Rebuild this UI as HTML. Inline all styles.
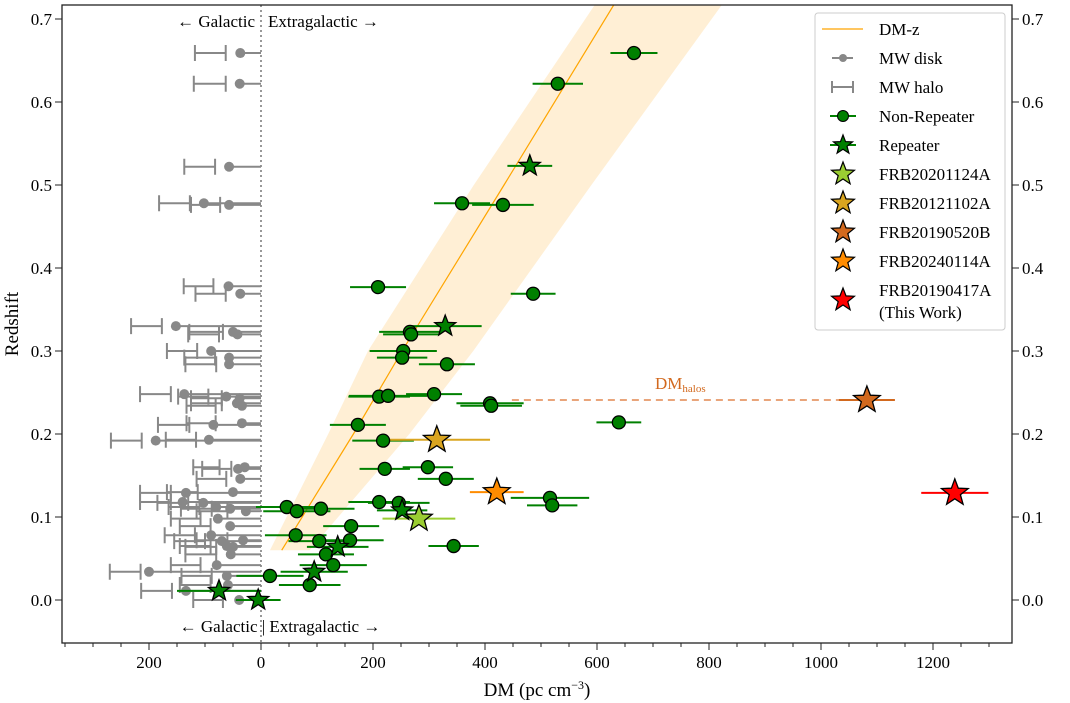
<!DOCTYPE html>
<html><head><meta charset="utf-8">
<style>
html,body{margin:0;padding:0;background:#fff;}
svg{display:block;font-family:"Liberation Serif","DejaVu Serif",serif;}
</style></head>
<body>
<svg id="chart" width="1070" height="703" viewBox="0 0 1070 703" xmlns="http://www.w3.org/2000/svg">
<rect x="0" y="0" width="1070" height="703" fill="#fff"/>
<g id="plot"></g>
</svg>
<script>
// ---- data ----
const nrDM  = [666,530,359,432,209,486,266,268,254,252,332,211,227,309,409,411,173,218,221,298,330,211,246,46,64,107,161,62,104,159,116,129,16,87,344,516,520,639];
const nrZ   = [0.659,0.622,0.478,0.476,0.377,0.369,0.323,0.320,0.300,0.292,0.284,0.245,0.246,0.248,0.237,0.234,0.211,0.192,0.158,0.160,0.146,0.118,0.117,0.112,0.107,0.110,0.089,0.078,0.071,0.072,0.055,0.042,0.029,0.018,0.065,0.123,0.114,0.214];
const nrErr = [42,45,50,55,50,40,55,50,60,45,50,55,70,50,60,55,50,55,45,45,50,55,55,55,60,60,50,55,55,60,50,60,60,55,45,70,45,40];
const repDM  = [480,329,252,137,95,-75,-5];
const repZ   = [0.523,0.330,0.108,0.064,0.034,0.011,0.000];
const repErr = [40,65,45,55,60,75,40];
const specNames = ["FRB20201124A","FRB20121102A","FRB20190520B","FRB20240114A","FRB20190417A"];
const specDM  = [282,314,1082,421,1239];
const specZ   = [0.098,0.193,0.241,0.130,0.129];
const specErr = [65,95,50,48,60];
const specColors = ["#9acd32","#daa520","#d2691e","#ff8c00","#ff0000"];
const mwZ    = [0.659,0.622,0.522,0.478,0.476,0.378,0.369,0.330,0.323,0.320,0.300,0.292,0.284,0.248,0.245,0.243,0.237,0.234,0.211,0.213,0.192,0.193,0.160,0.158,0.146,0.130,0.129,0.118,0.117,0.112,0.107,0.110,0.098,0.089,0.078,0.071,0.072,0.065,0.064,0.055,0.042,0.034,0.029,0.018,0.011,0.000];
const mwDisk = [37,38,57,102,57,58,37,152,50,42,89,57,57,137,62,38,43,34,85,34,188,93,29,41,37,50,134,140,103,80,27,55,77,55,89,70,32,61,50,54,79,200,61,59,134,39];
const mwHaloLo=[63,63,82,127,73,85,63,177,68,75,114,82,80,161,94,70,70,81,128,81,213,116,74,53,62,113,161,161,130,110,60,88,108,90,118,100,60,90,80,80,108,215,88,90,159,68];
const mwHaloHi=[118,120,137,182,125,138,117,232,128,130,168,137,135,216,148,125,125,133,184,133,268,170,121,105,115,168,216,216,185,165,115,143,161,145,172,155,115,145,135,135,161,270,142,145,214,121];
const bandZ  = [0.06,0.2,0.3,0.5,0.717];
const bandLo = [16,120,191,380,596];
const bandHi = [87,265,379,590,823];
const lineZ  = [0.06,0.2,0.3,0.5,0.717];
const lineDM = [37,165,252,434,630];
const xTickVals = [-200,0,200,400,600,800,1000,1200];
const xTickLabels = ["200","0","200","400","600","800","1000","1200"];
const yTickVals = [0,0.1,0.2,0.3,0.4,0.5,0.6,0.7];
const yTickLabels = ["0.0","0.1","0.2","0.3","0.4","0.5","0.6","0.7"];

// ---- axes ----
const L=62,R=1012,T=5,B=643;
const X0=261, KX=0.56, Y0=600, KY=830;
const sx=v=>X0+v*KX, sy=v=>Y0-v*KY;
const NS="http://www.w3.org/2000/svg";
const plot=document.getElementById('plot');
function mk(tag,attrs,parent){const e=document.createElementNS(NS,tag);for(const k in attrs)e.setAttribute(k,attrs[k]);(parent||plot).appendChild(e);return e;}
function star(cx,cy,r){let p=[];for(let i=0;i<10;i++){const a=-Math.PI/2+i*Math.PI/5;const rr=i%2?r*0.42:r;p.push((cx+rr*Math.cos(a)).toFixed(1)+","+(cy+rr*Math.sin(a)).toFixed(1));}return p.join(" ");}

// band
let bp=[];
for(let i=0;i<bandZ.length;i++)bp.push(sx(bandLo[i])+","+sy(bandZ[i]));
for(let i=bandZ.length-1;i>=0;i--)bp.push(sx(bandHi[i])+","+sy(bandZ[i]));
const clip=mk('clipPath',{id:'pc'});mk('rect',{x:L,y:T,width:R-L,height:B-T},clip);
const band=mk('polygon',{points:bp.join(" "),fill:"#ffefd5",'clip-path':'url(#pc)'});


const dl=mk('polyline',{points:lineZ.map((z,i)=>sx(lineDM[i])+","+sy(z)).join(" "),fill:"none",stroke:"#ffa500","stroke-width":1.2,'clip-path':'url(#pc)'});



// divider
const dv=mk('line',{x1:sx(0),x2:sx(0),y1:T,y2:B,stroke:"#777","stroke-width":1.5,"stroke-dasharray":"2,3"});



// MW
for(let i=0;i<mwZ.length;i++){
  const y=sy(mwZ[i]);const g=mk('g',{});
  
  
  mk('line',{x1:sx(0),x2:sx(-mwDisk[i]),y1:y,y2:y,stroke:"#888","stroke-width":2},g);
  mk('circle',{cx:sx(-mwDisk[i]),cy:y,r:5,fill:"#888"},g);
  const a=sx(-mwHaloLo[i]),b=sx(-mwHaloHi[i]);
  mk('path',{d:`M${a},${y}H${b}M${a},${y-8}V${y+8}M${b},${y-8}V${y+8}`,stroke:"#888","stroke-width":2,fill:"none"},g);
}
// halos dashed
const hd=mk('line',{x1:sx(448),x2:sx(specDM[2]),y1:sy(specZ[2]),y2:sy(specZ[2]),stroke:"#e9a57b","stroke-width":2,"stroke-dasharray":"7,5"});


const ht=mk('text',{x:655,y:389,fill:"#d2691e","font-size":17});
ht.innerHTML='DM<tspan font-size="11" dy="3">halos</tspan>';



// error bars first
function eb(dm,z,e,c){const y=sy(z);mk('line',{x1:sx(dm-e),x2:sx(dm+e),y1:y,y2:y,stroke:c,"stroke-width":2});}
nrDM.forEach((d,i)=>eb(d,nrZ[i],nrErr[i],"#008000"));
repDM.forEach((d,i)=>eb(d,repZ[i],repErr[i],"#008000"));
specDM.forEach((d,i)=>eb(d,specZ[i],specErr[i],specColors[i]));
nrDM.forEach((d,i)=>{const c=mk('circle',{cx:sx(d),cy:sy(nrZ[i]),r:6.5,fill:"#008000",stroke:"#000","stroke-width":1.3});

});
repDM.forEach((d,i)=>{const s=mk('polygon',{points:star(sx(d),sy(repZ[i]),11),fill:"#008000",stroke:"#000","stroke-width":1.3});

});
specDM.forEach((d,i)=>{const s=mk('polygon',{points:star(sx(d),sy(specZ[i]),14),fill:specColors[i],stroke:"#000","stroke-width":1.3});

});

// frame
const fr=mk('rect',{x:L,y:T,width:R-L,height:B-T,fill:"none",stroke:"#222","stroke-width":1.3});


// x ticks
for(let v=-350;v<=1300;v+=50){const x=sx(v);if(x<L||x>R)continue;const maj=(v%200===0);mk('line',{x1:x,x2:x,y1:B,y2:B+(maj?7:4),stroke:"#222","stroke-width":1});}
xTickVals.forEach((v,i)=>{const t=mk('text',{x:sx(v),y:B+25,"text-anchor":"middle","font-size":17});t.textContent=xTickLabels[i];

});
yTickVals.forEach((v,i)=>{const y=sy(v);
mk('line',{x1:L-7,x2:L,y1:y,y2:y,stroke:"#222"});mk('line',{x1:R,x2:R+7,y1:y,y2:y,stroke:"#222"});
const t=mk('text',{x:L-10,y:y+6,"text-anchor":"end","font-size":17});t.textContent=yTickLabels[i];


const t2=mk('text',{x:R+10,y:y+6,"text-anchor":"start","font-size":17});t2.textContent=yTickLabels[i];

});
const xl=mk('text',{x:537,y:696,"text-anchor":"middle","font-size":19});
xl.innerHTML='DM (pc cm<tspan font-size="12" dy="-7">−3</tspan><tspan dy="7">)</tspan>';


const yl=mk('text',{x:18,y:324,"text-anchor":"middle","font-size":19,transform:"rotate(-90 18 324)"});yl.textContent="Redshift";


const g1=mk('text',{x:255,y:27,"text-anchor":"end","font-size":17});g1.textContent="← Galactic";


const g2=mk('text',{x:268,y:27,"font-size":17});g2.textContent="Extragalactic →";


const g3=mk('text',{x:280,y:632,"text-anchor":"middle","font-size":17});g3.textContent="← Galactic | Extragalactic →";



// legend
const lg=mk('g',{});


mk('rect',{x:815,y:13,width:190,height:317,rx:3,fill:"#fff",stroke:"#ccc"},lg);
const entries=["DM-z","MW disk","MW halo","Non-Repeater","Repeater"].concat(specNames);
const ys=[29,58,87,116,145,174,203,232,261,290];
entries.forEach((n,i)=>{const y=ys[i];const cx=843;
 if(i===0)mk('line',{x1:822,x2:863,y1:y,y2:y,stroke:"#ffa500","stroke-width":1.3},lg);
 else if(i===1){mk('line',{x1:832,x2:853,y1:y,y2:y,stroke:"#888","stroke-width":2},lg);mk('circle',{cx:cx,cy:y,r:4,fill:"#888"},lg);}
 else if(i===2)mk('path',{d:`M832,${y}H853M832,${y-6}V${y+6}M853,${y-6}V${y+6}`,stroke:"#888","stroke-width":2,fill:"none"},lg);
 else if(i===3){mk('line',{x1:830,x2:856,y1:y,y2:y,stroke:"#008000","stroke-width":2},lg);mk('circle',{cx:cx,cy:y,r:5.5,fill:"#008000",stroke:"#000"},lg);}
 else if(i===4){mk('line',{x1:830,x2:856,y1:y,y2:y,stroke:"#008000","stroke-width":2},lg);mk('polygon',{points:star(cx,y,10),fill:"#008000",stroke:"#000","stroke-width":1.2},lg);}
 else {const yy=(i===9)?y+10:y;mk('polygon',{points:star(cx,yy,12),fill:specColors[i-5],stroke:"#000","stroke-width":1.2},lg);}
 const t=mk('text',{x:879,y:y+6,"font-size":17},lg);t.textContent=n;
 
 
});
const tw=mk('text',{x:879,y:318,"font-size":17},lg);tw.textContent="(This Work)";


</script>
</body></html>
